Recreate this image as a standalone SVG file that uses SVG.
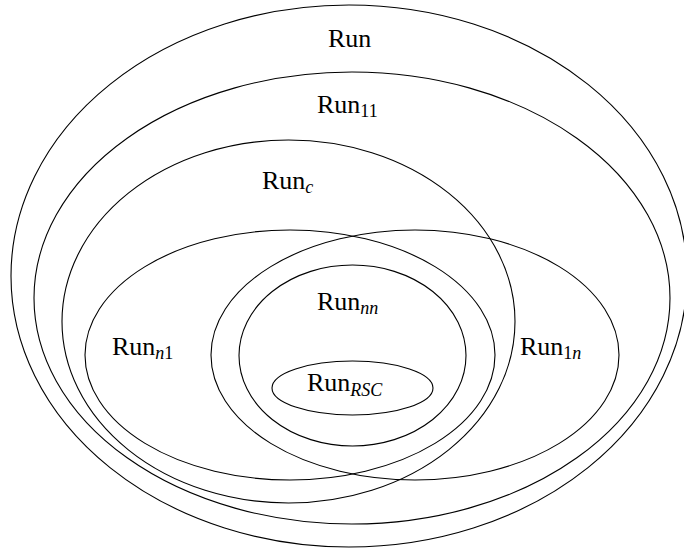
<svg xmlns="http://www.w3.org/2000/svg" width="684" height="548" viewBox="0 0 684 548">
<style>
.e{fill:none;stroke:#000;stroke-width:1.1}
.t{font-size:26px;fill:#000}
.s{font-size:18px}
.i{font-style:italic}
</style>
<rect width="684" height="548" fill="#fff"/>
<g id="run"><ellipse class="e" cx="349" cy="276" rx="338" ry="271"/><text class="t" font-family="'Liberation Serif', 'DejaVu Serif', serif" x="328" y="47">Run</text></g>
<g id="run11"><ellipse class="e" cx="352" cy="298" rx="318" ry="226"/><text class="t" font-family="'Liberation Serif', 'DejaVu Serif', serif" x="317" y="113">Run<tspan class="s" dy="4">11</tspan></text></g>
<g id="runc"><ellipse class="e" cx="288.5" cy="321.5" rx="226.5" ry="181.5"/><text class="t" font-family="'Liberation Serif', 'DejaVu Serif', serif" x="262" y="189">Run<tspan class="s i" dy="4">c</tspan></text></g>
<g id="runn1"><ellipse class="e" cx="290" cy="355" rx="205" ry="125"/><text class="t" font-family="'Liberation Serif', 'DejaVu Serif', serif" x="112" y="355">Run<tspan class="s i" dy="4">n</tspan><tspan class="s">1</tspan></text></g>
<g id="run1n"><ellipse class="e" cx="415" cy="355" rx="204" ry="125"/><text class="t" font-family="'Liberation Serif', 'DejaVu Serif', serif" x="520" y="355">Run<tspan class="s" dy="4">1</tspan><tspan class="s i">n</tspan></text></g>
<g id="runnn"><ellipse class="e" cx="352.5" cy="355.5" rx="113.5" ry="90.5"/><text class="t" font-family="'Liberation Serif', 'DejaVu Serif', serif" x="317" y="310">Run<tspan class="s i" dy="4">nn</tspan></text></g>
<g id="runrsc"><ellipse class="e" cx="352.5" cy="388" rx="80.5" ry="27"/><text class="t" font-family="'Liberation Serif', 'DejaVu Serif', serif" x="307" y="391">Run<tspan class="s i" dy="5">RSC</tspan></text></g>
<g id="connectors"/>
</svg>
